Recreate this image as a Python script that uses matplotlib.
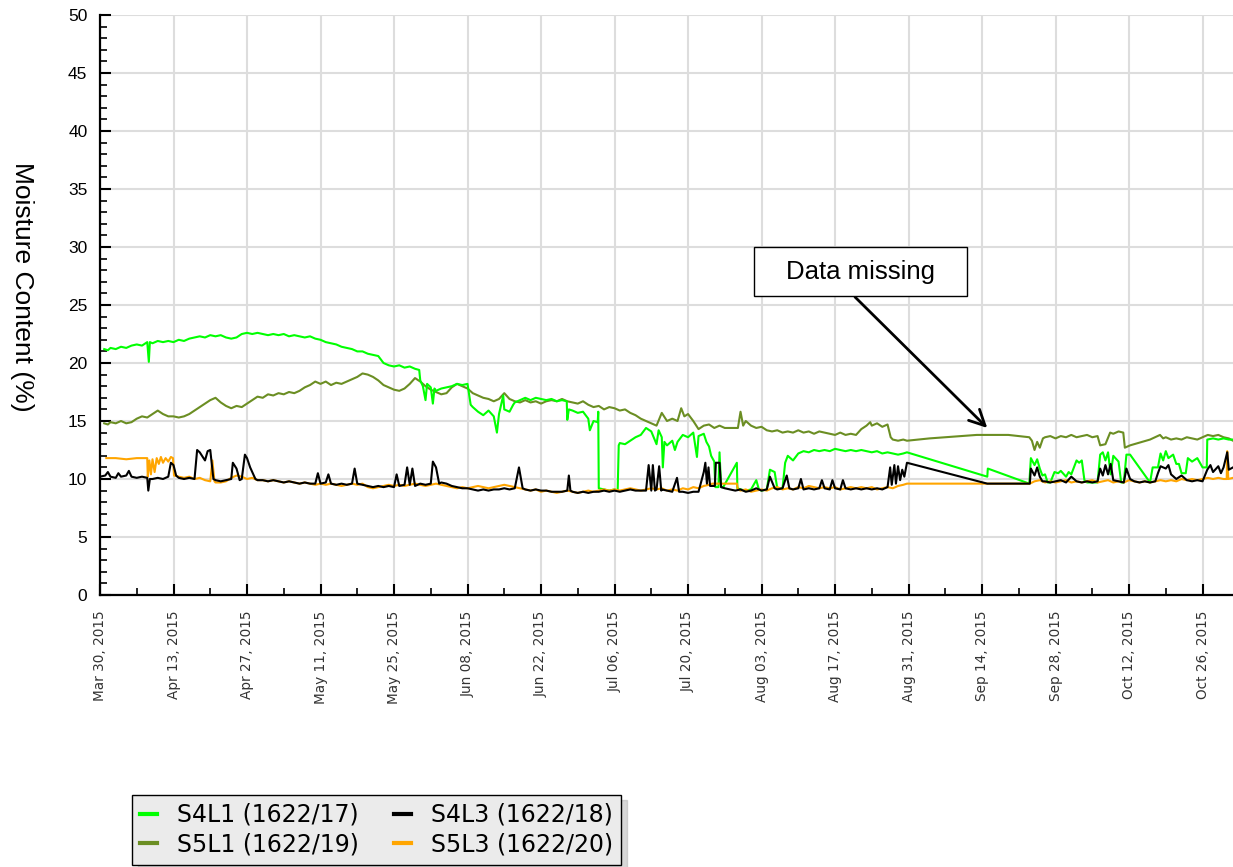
import pandas as pd
import numpy as np
import matplotlib
matplotlib.use('Agg')
import matplotlib.pyplot as plt
import matplotlib.dates as mdates

# (day after Mar 30 2015, moisture %)
s4l1 = [(0.8,21.2),(1.5,21.1),(2,21.3),(3,21.2),(4,21.4),(5,21.3),(6,21.5),(7,21.6),(8,21.5),(9,21.8),(9.3,20.1),(9.5,21.8),
        (10,21.7),(11,21.9),(12,21.8),(13,21.9),(14,21.8),(15,22.0),(16,21.9),(17,22.1),(18,22.2),(19,22.3),(20,22.2),
        (21,22.4),(22,22.3),(23,22.4),(24,22.2),(25,22.1),(26,22.2),(27,22.5),(28,22.6),(29,22.5),(30,22.6),(31,22.5),
        (32,22.4),(33,22.5),(34,22.4),(35,22.5),(36,22.3),(37,22.4),(38,22.3),(39,22.2),(40,22.3),(41,22.1),(42,22.0),
        (43,21.8),(44,21.7),(45,21.6),(46,21.4),(47,21.3),(48,21.2),(49,21.0),(50,21.0),(51,20.8),(52,20.7),(53,20.6),
        (54,20.0),(55,19.8),(56,19.7),(57,19.8),(58,19.6),(59,19.7),(60,19.5),(60.8,19.4),(61,18.5),(61.5,18.0),(62,16.8),
        (62.3,18.2),(63,17.9),(63.4,16.5),(63.7,17.8),(64,17.6),(65,17.8),(66,17.9),(67,18.0),(68,18.2),(69,18.1),(70,18.2),
        (70.6,16.4),(71,16.2),(72,15.8),(73,15.5),(74,15.9),(75,15.4),(75.6,14.0),(76,15.6),(76.8,17.2),(77,16.0),(78,15.8),
        (78.7,16.4),(79,16.6),(80,16.8),(81,17.0),(82,16.8),(83,17.0),(84,16.9),(85,16.8),(86,16.9),(87,16.7),(88,16.8),
        (88.9,16.7),(89,15.1),(89.3,16.0),(90,15.9),(91,15.7),(92,15.8),(93,15.2),(93.3,14.2),(94,15.0),(94.8,14.9),
        (94.9,15.8),(95,9.2),(96,9.1),(97,9.0),(98,9.1),(98.6,9.0),(98.8,12.9),(99,13.1),(100,13.0),(101,13.3),(102,13.6),
        (103,13.8),(104,14.4),(105,14.1),(106,13.0),(106.4,14.2),(107,13.6),(107.2,11.0),(107.5,13.2),(108,12.9),(109,13.3),
        (109.5,12.5),(110,13.2),(111,13.8),(112,13.6),(113,14.0),(113.7,11.9),(114,13.7),(115,13.9),(115.5,13.2),(116,12.8),
        (116.4,12.0),(117,11.5),(117.2,9.3),(117.8,9.3),(118,12.3),(118.3,9.3),(118.7,9.3),(121.3,11.4),(121.4,9.2),(122,9.1),
        (123,9.0),(124,9.1),(125,9.9),(125.5,9.1),(126,9.0),(127,9.1),(127.6,10.8),(128.5,10.6),(129,9.2),(130,9.2),
        (130.5,11.4),(131,12.0),(132,11.6),(133,12.2),(134,12.4),(135,12.3),(136,12.5),(137,12.4),(138,12.5),(139,12.4),
        (140,12.6),(141,12.5),(142,12.4),(143,12.5),(144,12.4),(145,12.5),(146,12.4),(147,12.3),(148,12.4),(149,12.2),
        (150,12.3),(151,12.2),(152,12.1),(153,12.2),(153.7,12.3),(169,10.2),(169.1,10.9),(177,9.6),(177.3,11.8),(178,11.2),
        (178.5,11.7),(179,10.9),(179.5,10.3),(180,10.4),(180.5,9.7),(181,9.7),(181.8,10.6),(182.5,10.5),(183,10.7),
        (184,10.2),(184.5,10.6),(185,10.4),(185.5,11.0),(186,11.6),(186.5,11.4),(187,11.6),(187.5,9.9),(188,9.7),(189,9.7),
        (190,9.7),(190.5,12.1),(191,12.3),(191.5,11.6),(192,12.3),(192.5,10.4),(193,12.0),(194,11.5),(194.5,9.7),(195,9.7),
        (195.5,12.1),(196.2,12.1),(200,9.7),(200.5,11.0),(201.5,11.0),(202,12.2),(202.5,11.6),(203,12.4),(203.5,11.8),
        (204.4,12.1),(205,11.3),(205.5,11.3),(206,10.5),(206.8,10.5),(207.2,11.8),(208,11.5),(209,11.8),(209.5,11.4),
        (210,11.0),(210.8,11.0),(210.9,13.4),(212,13.5),(213,13.4),(214,13.5),(215,13.4),(215.8,13.4)]

s5l1 = [(0.8,14.8),(1.5,14.7),(2,14.9),(3,14.8),(4,15.0),(5,14.8),(6,14.9),(7,15.2),(8,15.4),(9,15.3),(10,15.6),(11,15.9),
        (12,15.6),(13,15.4),(14,15.4),(15,15.3),(16,15.4),(17,15.6),(18,15.9),(19,16.2),(20,16.5),(21,16.8),(22,17.0),
        (23,16.6),(24,16.3),(25,16.1),(26,16.3),(27,16.2),(28,16.5),(29,16.8),(30,17.1),(31,17.0),(32,17.3),(33,17.2),
        (34,17.4),(35,17.3),(36,17.5),(37,17.4),(38,17.6),(39,17.9),(40,18.1),(41,18.4),(42,18.2),(43,18.4),(44,18.1),
        (45,18.3),(46,18.2),(47,18.4),(48,18.6),(49,18.8),(50,19.1),(51,19.0),(52,18.8),(53,18.5),(54,18.1),(55,17.9),
        (56,17.7),(57,17.6),(58,17.8),(59,18.2),(60,18.7),(61,18.4),(62,18.0),(63,17.7),(64,17.5),(65,17.3),(66,17.4),
        (67,17.9),(68,18.2),(69,18.0),(70,17.8),(71,17.4),(72,17.2),(73,17.0),(74,16.9),(75,16.7),(76,16.9),(77,17.4),
        (78,16.9),(79,16.7),(80,16.6),(81,16.8),(82,16.6),(83,16.7),(84,16.5),(85,16.7),(86,16.8),(87,16.7),(88,16.9),
        (89,16.7),(90,16.6),(91,16.5),(92,16.7),(93,16.4),(94,16.2),(95,16.3),(96,16.0),(97,16.2),(98,16.1),(99,15.9),
        (100,16.0),(101,15.7),(102,15.5),(103,15.2),(104,15.0),(105,14.8),(106,14.6),(107,15.7),(108,15.0),(109,15.2),
        (110,15.0),(110.7,16.1),(111.3,15.4),(112,15.6),(113,15.0),(114,14.3),(115,14.6),(116,14.7),(117,14.4),(118,14.6),
        (119,14.4),(121.5,14.4),(122,15.8),(122.5,14.6),(123,15.0),(124,14.6),(125,14.4),(126,14.5),(127,14.2),(128,14.1),
        (129,14.2),(130,14.0),(131,14.1),(132,14.0),(133,14.2),(134,14.0),(135,14.1),(136,13.9),(137,14.1),(138,14.0),
        (139,13.9),(140,13.8),(141,14.0),(142,13.8),(143,13.9),(144,13.8),(145,14.3),(146,14.6),(146.7,14.9),(147,14.6),
        (148,14.8),(149,14.5),(150,14.7),(150.6,13.6),(151,13.4),(152,13.3),(153,13.4),(153.7,13.3),(158,13.5),(161,13.6),
        (167,13.8),(173,13.8),(177,13.6),(177.5,13.3),(178,12.5),(178.5,13.2),(179,12.7),(179.6,13.5),(180,13.6),(181,13.7),
        (182,13.5),(183,13.7),(184,13.6),(185,13.8),(186,13.6),(187,13.7),(188,13.8),(189,13.6),(190,13.7),(190.5,12.9),
        (191.5,13.0),(192.4,14.0),(193,13.9),(194,14.1),(194.9,14.0),(195.2,12.7),(196.2,12.9),(200,13.4),(201.9,13.8),
        (202.5,13.5),(203,13.6),(204,13.4),(205,13.5),(206,13.4),(207,13.6),(208,13.5),(209,13.4),(210,13.6),(211,13.8),
        (212,13.7),(213,13.8),(214,13.6),(215,13.5),(215.8,13.3)]

s4l3 = [(0,10.2),(1,10.3),(1.5,10.6),(2,10.2),(3,10.1),(3.5,10.5),(4,10.2),(5,10.3),(5.5,10.7),(6,10.2),(7,10.1),(8,10.2),
        (9,10.1),(9.2,9.0),(9.5,10.0),(10,10.0),(11,10.1),(12,10.0),(13,10.2),(13.5,11.4),(14,11.2),(14.5,10.3),(15,10.1),
        (16,10.0),(17,10.1),(18,10.0),(18.5,12.5),(19,12.3),(20,11.6),(20.5,12.4),(21,12.5),(21.6,10.0),(22,9.9),(23,9.8),
        (24,9.9),(25,10.0),(25.3,11.4),(26,10.9),(26.6,9.9),(27,10.0),(27.6,12.1),(28,11.8),(28.6,11.0),(29,10.6),(29.6,10.0),
        (30,9.9),(31,9.9),(32,9.8),(33,9.9),(34,9.8),(35,9.7),(36,9.8),(37,9.7),(38,9.6),(39,9.7),(40,9.6),(41,9.6),
        (41.5,10.5),(42,9.6),(43,9.7),(43.5,10.4),(44,9.6),(45,9.5),(46,9.6),(47,9.5),(48,9.6),(48.5,10.9),(49,9.6),(50,9.5),
        (51,9.4),(52,9.3),(53,9.4),(54,9.3),(55,9.4),(56,9.3),(56.5,10.4),(57,9.4),(58,9.5),(58.5,11.0),(59,9.5),(59.5,10.9),
        (60,9.4),(61,9.6),(62,9.5),(63,9.6),(63.4,11.5),(64,11.0),(64.6,9.6),(65,9.7),(66,9.6),(67,9.4),(68,9.3),(69,9.2),
        (70,9.2),(71,9.1),(72,9.0),(73,9.1),(74,9.0),(75,9.1),(76,9.1),(77,9.2),(78,9.1),(79,9.2),(79.8,11.0),(80.5,9.2),
        (81,9.1),(82,9.0),(83,9.1),(84,9.0),(85,9.0),(86,8.9),(87,8.9),(88,8.9),(89,9.0),(89.3,10.3),(89.6,9.0),(90,8.9),
        (91,8.8),(92,8.9),(93,8.8),(94,8.9),(95,8.9),(96,9.0),(97,8.9),(98,9.0),(99,8.9),(100,9.0),(101,9.1),(102,9.0),
        (103,9.0),(104,9.0),(104.5,11.2),(105,9.0),(105.3,11.2),(105.7,9.0),(106,9.1),(106.5,11.1),(106.9,9.0),(107,9.1),
        (108,9.0),(109,8.9),(109.9,10.1),(110.3,8.9),(111,8.9),(112,8.8),(113,8.9),(114,8.9),(115,10.6),(115.3,11.4),
        (115.6,9.6),(115.9,11.0),(116.2,9.4),(117.1,9.4),(117.3,11.4),(118,11.4),(118.3,9.3),(119,9.2),(120,9.1),(121,9.0),
        (122,9.1),(123,8.9),(124,9.0),(125,9.2),(126,9.0),(127,9.1),(127.6,10.2),(128.5,9.2),(129,9.1),(130,9.2),(130.8,10.3),
        (131.3,9.2),(132,9.1),(133,9.2),(133.5,10.0),(134,9.1),(135,9.2),(136,9.1),(137,9.2),(137.5,9.9),(138,9.2),(139,9.1),
        (139.5,9.9),(140,9.2),(141,9.1),(141.5,9.9),(142,9.2),(143,9.1),(144,9.2),(145,9.1),(146,9.2),(147,9.1),(148,9.2),
        (149,9.1),(150,9.3),(150.5,11.0),(150.8,9.5),(151.3,11.2),(151.6,9.6),(152,11.1),(152.4,9.9),(152.8,10.8),
        (153.2,10.2),(153.7,11.4),(169,9.6),(177.1,9.6),(177.3,10.9),(178,10.3),(178.5,11.0),(179,10.2),(179.5,9.8),
        (180,9.8),(181,9.7),(182,9.8),(183,9.9),(184,9.7),(185,10.2),(186,9.8),(187,9.7),(188,9.8),(189,9.7),(190,9.8),
        (190.5,10.9),(191,10.3),(191.5,11.2),(192,10.4),(192.5,11.3),(193,9.9),(194,9.8),(195,9.7),(195.5,10.9),(196.2,10.0),
        (197,9.8),(198,9.7),(199,9.8),(200,9.7),(201,9.8),(201.5,10.5),(202,11.1),(203,10.9),(203.5,11.2),(204,10.4),
        (205,10.0),(206,10.3),(207,9.9),(208,9.8),(209,9.9),(210,9.8),(210.9,10.8),(211.5,11.2),(212,10.6),(213,11.1),
        (213.5,10.5),(214,11.0),(214.7,12.3),(215,10.8),(215.8,11.0)]

s5l3 = [(1.2,11.8),(3,11.8),(5,11.7),(7,11.8),(9,11.8),(9.1,10.2),(9.4,11.6),(9.7,10.4),(10,11.7),(10.4,10.6),(10.8,11.8),
        (11.2,11.3),(11.6,11.9),(12,11.4),(12.5,11.8),(13,11.5),(13.5,11.9),(13.9,11.8),(14.1,10.3),(15,10.2),(16,10.1),
        (17,10.2),(18,10.0),(19,10.1),(20,9.9),(21,9.8),(21.4,11.6),(21.8,9.8),(22,9.7),(23,9.7),(24,9.8),(25,10.1),
        (26,10.3),(27,10.2),(28,10.0),(29,10.1),(30,9.9),(31,9.9),(32,9.8),(33,9.9),(34,9.8),(35,9.7),(36,9.8),(37,9.7),
        (38,9.6),(39,9.7),(40,9.6),(41,9.5),(42,9.6),(43,9.5),(44,9.6),(45,9.5),(46,9.4),(47,9.5),(48,9.6),(49,9.5),
        (50,9.6),(51,9.3),(52,9.2),(53,9.3),(54,9.4),(55,9.5),(56,9.4),(57,9.5),(58,9.4),(59,9.5),(60,9.6),(61,9.5),
        (62,9.4),(63,9.5),(64,9.6),(65,9.5),(66,9.4),(67,9.3),(68,9.2),(69,9.3),(70,9.2),(71,9.3),(72,9.4),(73,9.3),
        (74,9.2),(75,9.3),(76,9.4),(77,9.5),(78,9.4),(79,9.3),(80,9.2),(81,9.1),(82,9.0),(83,9.1),(84,8.9),(85,9.0),
        (86,8.9),(87,8.8),(88,8.9),(89,9.0),(90,8.9),(91,8.8),(92,8.9),(93,9.0),(94,8.9),(95,9.0),(96,9.1),(97,9.0),
        (98,9.1),(99,9.0),(100,9.1),(101,9.2),(102,9.1),(103,9.0),(104,9.1),(105,9.2),(106,9.1),(107,9.2),(108,9.0),
        (109,9.1),(110,9.0),(111,9.2),(112,9.1),(113,9.3),(114,9.2),(115,9.4),(116,9.5),(116.6,9.6),(121.3,9.6),(121.5,9.1),
        (122,9.0),(123,9.1),(124,8.9),(125,9.0),(126,9.1),(127,9.0),(128,9.2),(129,9.3),(130,9.1),(131,9.2),(132,9.1),
        (133,9.3),(134,9.2),(135,9.4),(136,9.3),(137,9.2),(138,9.3),(139,9.2),(140,9.3),(141,9.1),(142,9.2),(143,9.3),
        (144,9.2),(145,9.3),(146,9.2),(147,9.3),(148,9.1),(149,9.2),(150,9.3),(151,9.2),(152,9.4),(153,9.5),(153.7,9.6),
        (177.1,9.6),(178,9.8),(179,9.9),(180,9.7),(181,9.8),(182,9.7),(183,9.8),(184,9.9),(185,9.7),(186,9.8),(187,9.7),
        (188,9.8),(189,9.9),(190,9.7),(191,9.8),(192,9.9),(193,9.7),(194,9.8),(195,9.7),(196,9.9),(197,9.8),(198,9.7),
        (199,9.8),(200,9.7),(201,9.8),(202,9.9),(203,9.8),(204,9.9),(205,9.8),(206,10.0),(207,9.9),(208,10.0),(209,9.9),
        (210,10.0),(211,10.1),(212,10.0),(213,10.1),(214,10.0),(214.6,10.0),(214.7,12.4),(214.9,10.0),(215.8,10.1)]

names = ['S4L1 (1622/17)', 'S5L1 (1622/19)', 'S4L3 (1622/18)', 'S5L3 (1622/20)']
colors = ['#00ff00', '#6b8e23', '#000000', '#ffa500']
start = pd.Timestamp('2015-03-30')
end_day = 215.8

def to_xy(pairs):
    d = np.array([p[0] for p in pairs])
    v = np.array([p[1] for p in pairs])
    return start + pd.to_timedelta(d, unit='D'), v

fig = plt.figure(figsize=(12.33, 8.67), dpi=100)
ax = fig.add_axes([100/1233, 272/867, 1133/1233, 580/867])

series = [s4l1, s5l1, s4l3, s5l3]
zorders = [3, 2, 5, 4]
handles = []
for s, c, n, z in zip(series, colors, names, zorders):
    x, y = to_xy(s)
    h, = ax.plot(x, y, color=c, lw=1.5, label=n, zorder=z)
    handles.append(h)

ax.set_ylim(0, 50)
ax.set_xlim(start, start + pd.Timedelta(days=end_day))
ax.set_yticks(np.arange(0, 51, 5))
ax.set_yticks(np.arange(0, 51, 1), minor=True)
major = pd.date_range('2015-03-30', '2015-10-26', freq='14D')
minor = pd.date_range('2015-04-06', '2015-10-31', freq='14D')
ax.set_xticks(major)
ax.set_xticks(minor, minor=True)
ax.xaxis.set_major_formatter(mdates.DateFormatter('%b %d, %Y'))

ax.grid(True, which='major', color='#dddddd', lw=1.5, zorder=0)
ax.set_axisbelow(True)
for sp in ['top', 'right']:
    ax.spines[sp].set_visible(False)
for sp in ['left', 'bottom']:
    ax.spines[sp].set_linewidth(1.6)
ax.tick_params(which='major', direction='in', length=8, width=1.5, pad=9)
ax.tick_params(which='minor', direction='in', length=5, width=1.2)
for lab in ax.get_yticklabels():
    lab.set_family('Liberation Sans')
    lab.set_fontsize(12.5)
for lab in ax.get_xticklabels():
    lab.set_family('DejaVu Sans')
    lab.set_fontsize(9.8)
    lab.set_rotation(90)
    lab.set_color('#333333')
ax.tick_params(axis='x', pad=11)

fig.text(22/1233, 1 - 287/867, 'Moisture Content (%)', rotation=270, ha='center', va='center',
         family='Liberation Sans', fontsize=19)

# "Data missing" callout
fig.patches.append(plt.Rectangle((754/1233, 571/867), 213/1233, 49/867, transform=fig.transFigure,
                                 facecolor='white', edgecolor='black', lw=1.0, zorder=9))
fig.text(0.6979, 0.6863, 'Data missing', ha='center', va='center',
         family='Liberation Sans', fontsize=18.5, zorder=11)
ax.annotate('', xy=(start + pd.Timedelta(days=169), 14.4), xycoords='data',
            xytext=(855/1233, 570/867), textcoords='figure fraction',
            arrowprops=dict(arrowstyle='->', lw=2, color='black', mutation_scale=28, shrinkA=0, shrinkB=0),
            zorder=10, annotation_clip=False)

leg = fig.legend(handles, names, ncol=2, loc='lower left', bbox_to_anchor=(132/1233, 2/867),
                 borderaxespad=0, prop={'family': 'DejaVu Sans', 'size': 17},
                 handlelength=0.7, handletextpad=0.85, columnspacing=1.5, labelspacing=0.25,
                 borderpad=0.35, fancybox=False, framealpha=1,
                 shadow={'ox': 4, 'oy': -4, 'color': '#b0b0b0'})
leg.get_frame().set_facecolor('#ebebeb')
leg.get_frame().set_edgecolor('black')
leg.get_frame().set_linewidth(1.0)
for line in leg.get_lines():
    line.set_linewidth(3)

fig.savefig('out.png', dpi=100)
